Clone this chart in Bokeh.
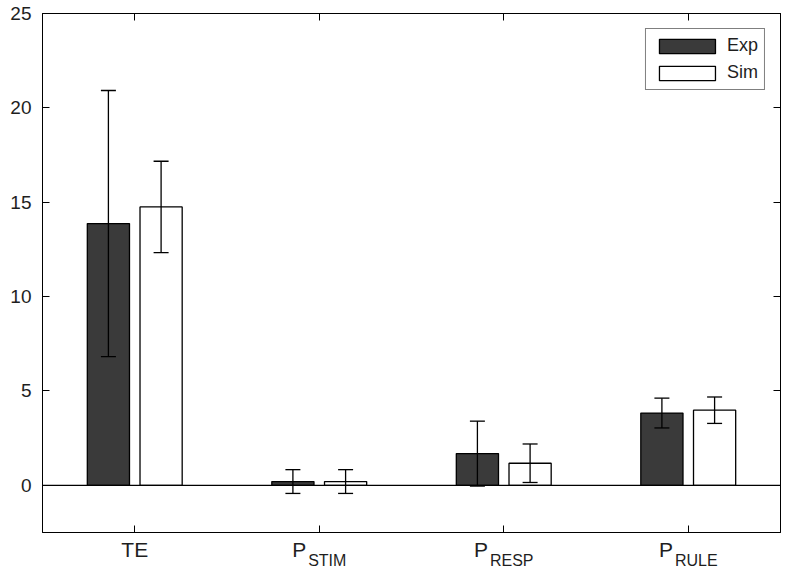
import numpy as np
from bokeh.plotting import figure
from bokeh.models import (ColumnDataSource, Whisker, TeeHead, Span, LinearAxis,
                          FixedTicker, Range1d, Legend, LegendItem)
from bokeh.embed import file_html
from bokeh.resources import INLINE

# ---- data ----
cat_main = ["TE", "P", "P", "P"]
cat_sub = ["", "STIM", "RESP", "RULE"]
exp_mean = [13.87, 0.20, 1.68, 3.83]
exp_err = [7.05, 0.63, 1.72, 0.79]
sim_mean = [14.75, 0.20, 1.17, 3.98]
sim_err = [2.42, 0.63, 1.02, 0.70]
y_ticks = [0, 5, 10, 15, 20, 25]

FONT = "Liberation Sans"
TXT = "#1e1e1e"
MAIN_SIZE = 21
SUB_SIZE = 16
n = len(cat_main)
xc = np.arange(1, n + 1)
offset = 0.1428
bw = 0.2286

src_e = ColumnDataSource(dict(x=xc - offset, top=exp_mean,
                              lo=np.array(exp_mean) - np.array(exp_err),
                              hi=np.array(exp_mean) + np.array(exp_err)))
src_s = ColumnDataSource(dict(x=xc + offset, top=sim_mean,
                              lo=np.array(sim_mean) - np.array(sim_err),
                              hi=np.array(sim_mean) + np.array(sim_err)))

W, H = 784, 571
BL, BR = 42, 4
p = figure(width=W, height=H, output_backend="svg", toolbar_location=None,
           x_range=Range1d(0.5, n + 0.5), y_range=Range1d(-2.5, 25),
           min_border_left=BL, min_border_right=BR, min_border_top=13, min_border_bottom=10)
p.xgrid.visible = False
p.ygrid.visible = False
p.outline_line_color = "black"
p.outline_line_width = 1
p.background_fill_color = "white"
p.border_fill_color = "white"

p.add_layout(Span(location=0, dimension="width", line_color="black", line_width=1.2))

r_e = p.vbar(x="x", top="top", bottom=0, width=bw, source=src_e,
             fill_color="#3a3a3a", line_color="black", line_width=1.3)
r_s = p.vbar(x="x", top="top", bottom=0, width=bw, source=src_s,
             fill_color="white", line_color="black", line_width=1.3)

for src in (src_e, src_s):
    w = Whisker(base="x", upper="hi", lower="lo", source=src, level="overlay",
                line_color="black", line_width=1.3,
                upper_head=TeeHead(size=15, line_color="black", line_width=1.3),
                lower_head=TeeHead(size=15, line_color="black", line_width=1.3))
    p.add_layout(w)


def tick_axis(ax):
    ax.axis_line_color = "black"
    ax.major_tick_line_color = "black"
    ax.major_tick_in = 7
    ax.major_tick_out = 0
    ax.minor_tick_line_color = None


def hide_labels(ax):
    ax.major_label_text_color = None
    ax.major_label_text_font_size = "1px"
    ax.major_label_standoff = 0


# left axis
p.yaxis.ticker = FixedTicker(ticks=y_ticks)
tick_axis(p.yaxis[0])
p.yaxis.major_label_text_font = FONT
p.yaxis.major_label_text_font_size = "19px"
p.yaxis.major_label_text_color = TXT
p.yaxis.major_label_standoff = 11

# bottom tick axis (no labels)
p.xaxis.ticker = FixedTicker(ticks=list(xc))
tick_axis(p.xaxis[0])
hide_labels(p.xaxis[0])

# right and top tick axes
ra = LinearAxis(ticker=FixedTicker(ticks=y_ticks))
tick_axis(ra)
hide_labels(ra)
p.add_layout(ra, "right")
ta = LinearAxis(ticker=FixedTicker(ticks=list(xc)))
tick_axis(ta)
hide_labels(ta)
p.add_layout(ta, "above")

# approximate Arial/Liberation Sans advance widths (em units)
CW = {"P": 0.667, "S": 0.667, "T": 0.611, "I": 0.278, "M": 0.833, "R": 0.722,
      "E": 0.667, "U": 0.722, "L": 0.556}


def text_w(s, size):
    return sum(CW.get(c, 0.6) for c in s) * size


px_per_unit = (W - BL - BR) / n
main_pos, sub_pos = [], []
main_over, sub_over = {}, {}
for i in range(n):
    if cat_sub[i]:
        main_w = text_w(cat_main[i], MAIN_SIZE)
        sub_w = text_w(cat_sub[i], SUB_SIZE)
        gap = 2
        total = main_w + gap + sub_w
        mp = float(xc[i] + (-total / 2 + main_w / 2) / px_per_unit)
        sp = float(xc[i] + (-total / 2 + main_w + gap + sub_w / 2) / px_per_unit)
        main_pos.append(mp)
        main_over[mp] = cat_main[i]
        sub_pos.append(sp)
        sub_over[sp] = cat_sub[i]
    else:
        mp = float(xc[i])
        main_pos.append(mp)
        main_over[mp] = cat_main[i]

for pos, over, size, standoff in ((main_pos, main_over, MAIN_SIZE, 5),
                                  (sub_pos, sub_over, SUB_SIZE, -12)):
    ax = LinearAxis(ticker=FixedTicker(ticks=pos), major_label_overrides=over)
    ax.axis_line_color = None
    ax.major_tick_line_color = None
    ax.minor_tick_line_color = None
    ax.major_tick_in = 0
    ax.major_tick_out = 0
    ax.major_label_text_font = FONT
    ax.major_label_text_font_size = f"{size}px"
    ax.major_label_text_color = TXT
    ax.major_label_standoff = standoff
    p.add_layout(ax, "below")

legend = Legend(items=[LegendItem(label="Exp", renderers=[r_e]),
                       LegendItem(label="Sim", renderers=[r_s])],
                location="top_right")
legend.glyph_width = 70
legend.glyph_height = 18
legend.label_text_font = FONT
legend.label_text_font_size = "18px"
legend.label_text_color = TXT
legend.border_line_color = "black"
legend.border_line_width = 1
legend.margin = 15
legend.padding = 6
legend.spacing = 6
legend.label_standoff = 5
legend.label_height = 18
p.add_layout(legend)

open("out.html", "w").write(file_html(p, INLINE))
